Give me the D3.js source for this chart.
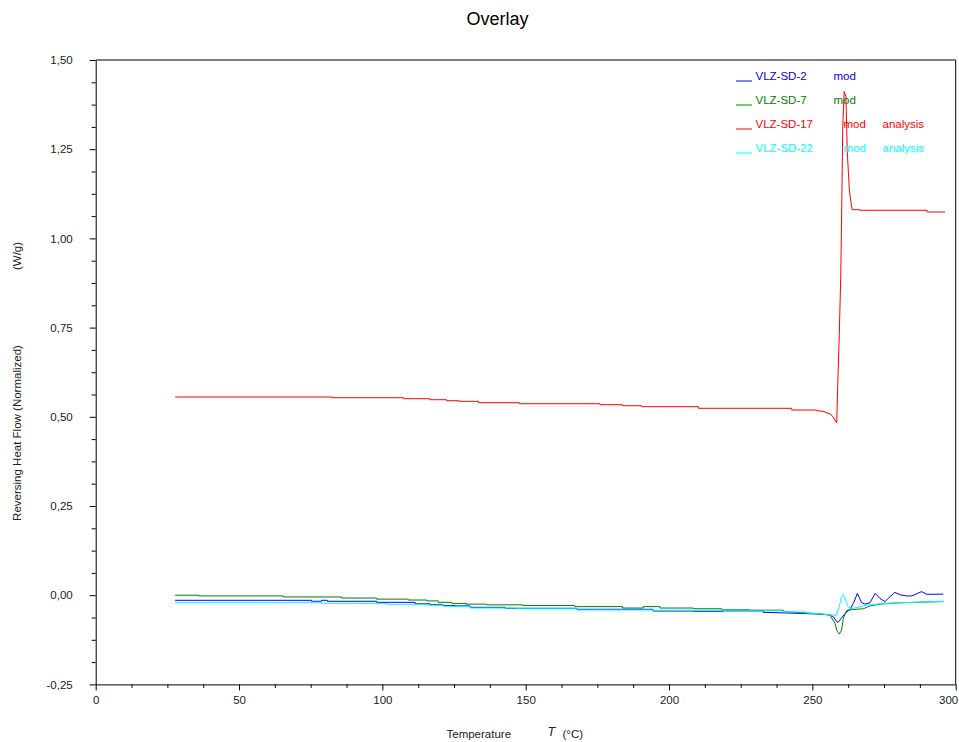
<!DOCTYPE html>
<html lang="en">
<head>
<meta charset="UTF-8">
<script src="https://cdn.jsdelivr.net/npm/d3@7"></script>
<title>Overlay</title>
<style>
  body { margin: 0; background: #fff; }
  text { font-family: "Liberation Sans", Arial, sans-serif; }
</style>
</head>
<body>
<svg id="chart"></svg>
<script>
// ---- data: [temperature °C, reversing heat flow W/g] ----
const sd2 = [[27.7,-0.0143],[75.3,-0.0143],[75.3,-0.017],[78.8,-0.017],[78.8,-0.0143],[80.8,-0.0143],[80.8,-0.017],[98.0,-0.017],
  [98.0,-0.020],[111.4,-0.020],[111.4,-0.024],[116.6,-0.024],[116.6,-0.0266],[121.2,-0.0266],[121.2,-0.029],[125.3,-0.029],
  [125.3,-0.030],[130.6,-0.030],[130.6,-0.034],[142.8,-0.034],[142.8,-0.0367],[167.8,-0.0367],[167.8,-0.0395],[194.4,-0.0395],
  [194.4,-0.0443],[208.5,-0.0443],[208.5,-0.045],[218.8,-0.045],[218.8,-0.044],[232.8,-0.044],[232.8,-0.048],[245.7,-0.051],
  [252.7,-0.053],[256.1,-0.0555],[257.3,-0.060],[258.5,-0.074],[259.0,-0.076],[261.4,-0.051],[263.1,-0.040],[264.3,-0.023],
  [265.7,0.005],[267.2,-0.021],[268.4,-0.025],[270.1,-0.021],[271.9,0.005],[273.6,-0.009],[275.3,-0.018],[277.1,-0.004],
  [278.8,0.008],[280.6,0.001],[282.9,-0.002],[284.7,-0.002],[288.1,0.010],[289.9,0.0025],[295.7,0.003]];
const sd7 = [[27.7,0.000],[35.8,0.000],[35.8,-0.002],[65.4,-0.002],[65.4,-0.005],[85.8,-0.005],[85.8,-0.008],[98.0,-0.008],
  [98.0,-0.011],[109.0,-0.011],[109.0,-0.0135],[115.5,-0.0135],[115.5,-0.016],[119.5,-0.016],[119.5,-0.020],[124.2,-0.020],
  [124.2,-0.023],[129.2,-0.023],[129.2,-0.025],[136.4,-0.025],[136.4,-0.027],[149.0,-0.027],[149.0,-0.029],[167.2,-0.029],
  [167.2,-0.032],[183.8,-0.032],[183.8,-0.036],[191.0,-0.036],[191.0,-0.032],[196.8,-0.032],[196.8,-0.036],[208.5,-0.036],
  [208.5,-0.038],[218.4,-0.038],[218.4,-0.041],[228.2,-0.041],[228.2,-0.042],[239.9,-0.042],[239.9,-0.046],[250.3,-0.051],
  [256.1,-0.055],[257.9,-0.079],[258.5,-0.098],[259.4,-0.109],[260.2,-0.098],[260.8,-0.065],[262.0,-0.042],[264.3,-0.040],
  [267.8,-0.038],[270.1,-0.030],[273.6,-0.025],[280.6,-0.021],[295.7,-0.018]];
const sd17 = [[27.7,0.5555],[82.3,0.5555],[82.3,0.5535],[107.3,0.5535],[107.3,0.5507],[116.6,0.5507],[116.6,0.5479],
  [122.4,0.5479],[122.4,0.5451],[126.8,0.5451],[126.8,0.5434],[133.5,0.5434],[133.5,0.5395],[147.8,0.5395],[147.8,0.5367],
  [175.9,0.5367],[175.9,0.5339],[183.8,0.5339],[183.8,0.5311],[190.5,0.5311],[190.5,0.5283],[210.2,0.5283],[210.2,0.5238],
  [242.8,0.5238],[242.8,0.5190],[251.5,0.5190],[251.5,0.5171],[253.7,0.5154],[256.2,0.5078],[257.2,0.5003],[258.3,0.4846],
  [258.5,0.484],[258.9,0.6031],[259.4,0.7349],[259.9,0.8927],[260.2,1.0572],[260.6,1.3131],[261.1,1.4117],[261.7,1.3971],
  [262.2,1.2393],[262.9,1.1356],[263.5,1.0992],[263.9,1.0804],[266.6,1.0804],[266.6,1.0788],[290.0,1.0788],[290.0,1.074],
  [296.3,1.074]];
const sd22 = [[27.7,-0.020],[78.8,-0.020],[78.8,-0.023],[101.5,-0.023],[101.5,-0.0255],[115.5,-0.0255],[115.5,-0.028],
  [121.3,-0.028],[121.3,-0.031],[124.6,-0.031],[124.6,-0.032],[130.6,-0.032],[130.6,-0.036],[146.9,-0.036],[146.9,-0.038],
  [167.8,-0.038],[167.8,-0.0415],[194.4,-0.0415],[194.4,-0.042],[218.8,-0.042],[218.8,-0.044],[239.8,-0.044],[239.8,-0.047],
  [248.0,-0.047],[248.0,-0.050],[252.7,-0.052],[256.1,-0.0555],[257.3,-0.0555],[258.2,-0.058],[259.4,-0.032],[260.2,-0.004],
  [260.8,0.0025],[261.6,-0.0135],[262.5,-0.032],[263.7,-0.038],[268.9,-0.028],[274.7,-0.023],[295.7,-0.017]];

const seriesData = [sd2, sd7, sd17, sd22];
const seriesNames = ["VLZ-SD-2", "VLZ-SD-7", "VLZ-SD-17", "VLZ-SD-22"];
const seriesNotes = [["mod"], ["mod"], ["mod", "analysis"], ["mod", "analysis"]];
const seriesColors = ["#0000ff", "#008000", "#ff0000", "#00ffff"];

const xMajor = [0, 50, 100, 150, 200, 250, 300];
const yMajor = [-0.25, 0, 0.25, 0.5, 0.75, 1.0, 1.25, 1.5];
const xMinor = d3.range(0, 300.1, 12.5).filter(v => v % 50 !== 0);
const yMinor = d3.range(-0.25, 1.51, 0.0625).filter(v => Math.abs(v / 0.25 - Math.round(v / 0.25)) > 1e-6);

// ---- layout ----
const width = 959, height = 742;
const plot = {left: 95.7, right: 955.7, top: 60, bottom: 684.4};

const svg = d3.select("#chart").attr("width", width).attr("height", height);
svg.append("rect").attr("width", width).attr("height", height).attr("fill", "#fff");

const x = d3.scaleLinear().domain([0, 300]).range([plot.left, plot.right]);
const y = d3.scaleLinear().domain([-0.25, 1.5]).range([plot.bottom, plot.top]);

const loc = d3.formatLocale({decimal: ",", thousands: ".", grouping: [3], currency: ["", ""], minus: "-"});
const fmt = loc.format(".2f");

// frame: top and right lines
svg.append("path")
  .attr("d", `M${plot.left},${plot.top}H${plot.right}V${plot.bottom}`)
  .attr("fill", "none").attr("stroke", "#000").attr("stroke-width", 1);

function styleAxis(g) {
  g.selectAll("text").attr("font-size", 11.5).attr("fill", "#222")
    .attr("font-family", '"Liberation Sans", Arial, sans-serif');
  g.selectAll("line, path").attr("stroke", "#000");
}

svg.append("g").attr("transform", `translate(0,${plot.bottom})`)
  .call(d3.axisBottom(x).tickValues(xMajor).tickSize(6).tickPadding(5).tickSizeOuter(0).tickFormat(d3.format("d")))
  .call(styleAxis)
  // last label pulled in so it stays inside the page
  .call(g => g.selectAll(".tick text").filter(d => d === 300).attr("text-anchor", "end").attr("dx", 2));
svg.append("g").attr("transform", `translate(0,${plot.bottom})`)
  .call(d3.axisBottom(x).tickValues(xMinor).tickSize(3.5).tickFormat(""))
  .call(g => g.select(".domain").remove())
  .call(styleAxis);

svg.append("g").attr("transform", `translate(${plot.left},0)`)
  .call(d3.axisLeft(y).tickValues(yMajor).tickSize(6).tickPadding(17).tickSizeOuter(0).tickFormat(fmt))
  .call(styleAxis);
svg.append("g").attr("transform", `translate(${plot.left},0)`)
  .call(d3.axisLeft(y).tickValues(yMinor).tickSize(4).tickFormat(""))
  .call(g => g.select(".domain").remove())
  .call(styleAxis);

// ---- series ----
const line = d3.line().x(d => x(d[0])).y(d => y(d[1]));
seriesData.forEach((data, i) => {
  svg.append("path").attr("d", line(data))
    .attr("fill", "none").attr("stroke", seriesColors[i]).attr("stroke-width", 1);
});

// ---- legend ----
const legendX = 736, legendY = 80, legendStep = 24;
const noteOffsets = [[78], [78], [88, 127], [88, 127]];
const legend = svg.append("g");
seriesNames.forEach((name, i) => {
  const yy = legendY + i * legendStep;
  legend.append("path").attr("d", `M${legendX},${yy + 1}h16`)
    .style("stroke", seriesColors[i]).style("stroke-width", 1).style("fill", "none");
  legend.append("text").attr("x", legendX + 19.5).attr("y", yy)
    .attr("font-size", 11.5).style("fill", seriesColors[i]).text(name);
  seriesNotes[i].forEach((note, j) => {
    legend.append("text").attr("x", legendX + 19.5 + noteOffsets[i][j]).attr("y", yy)
      .attr("font-size", 11.5).style("fill", seriesColors[i]).text(note);
  });
});

// ---- titles ----
svg.append("text").attr("x", 497.5).attr("y", 25).attr("text-anchor", "middle")
  .attr("font-size", 18).attr("fill", "#000").text("Overlay");

svg.append("text").attr("transform", "translate(21,433) rotate(-90)").attr("text-anchor", "middle")
  .attr("font-size", 11.5).attr("fill", "#222").text("Reversing Heat Flow (Normalized)");
svg.append("text").attr("transform", "translate(21,256) rotate(-90)").attr("text-anchor", "middle")
  .attr("font-size", 11.5).attr("fill", "#222").text("(W/g)");

svg.append("text").attr("x", 446.5).attr("y", 738).attr("font-size", 11.5).attr("fill", "#222").text("Temperature");
svg.append("text").attr("x", 547.5).attr("y", 735.5).attr("font-size", 12.5).attr("font-style", "italic")
  .attr("font-family", '"Liberation Serif", "DejaVu Serif", serif').attr("fill", "#222").text("T");
svg.append("text").attr("x", 562.5).attr("y", 738).attr("font-size", 11.5).attr("fill", "#222").text("(°C)");
</script>
</body>
</html>
